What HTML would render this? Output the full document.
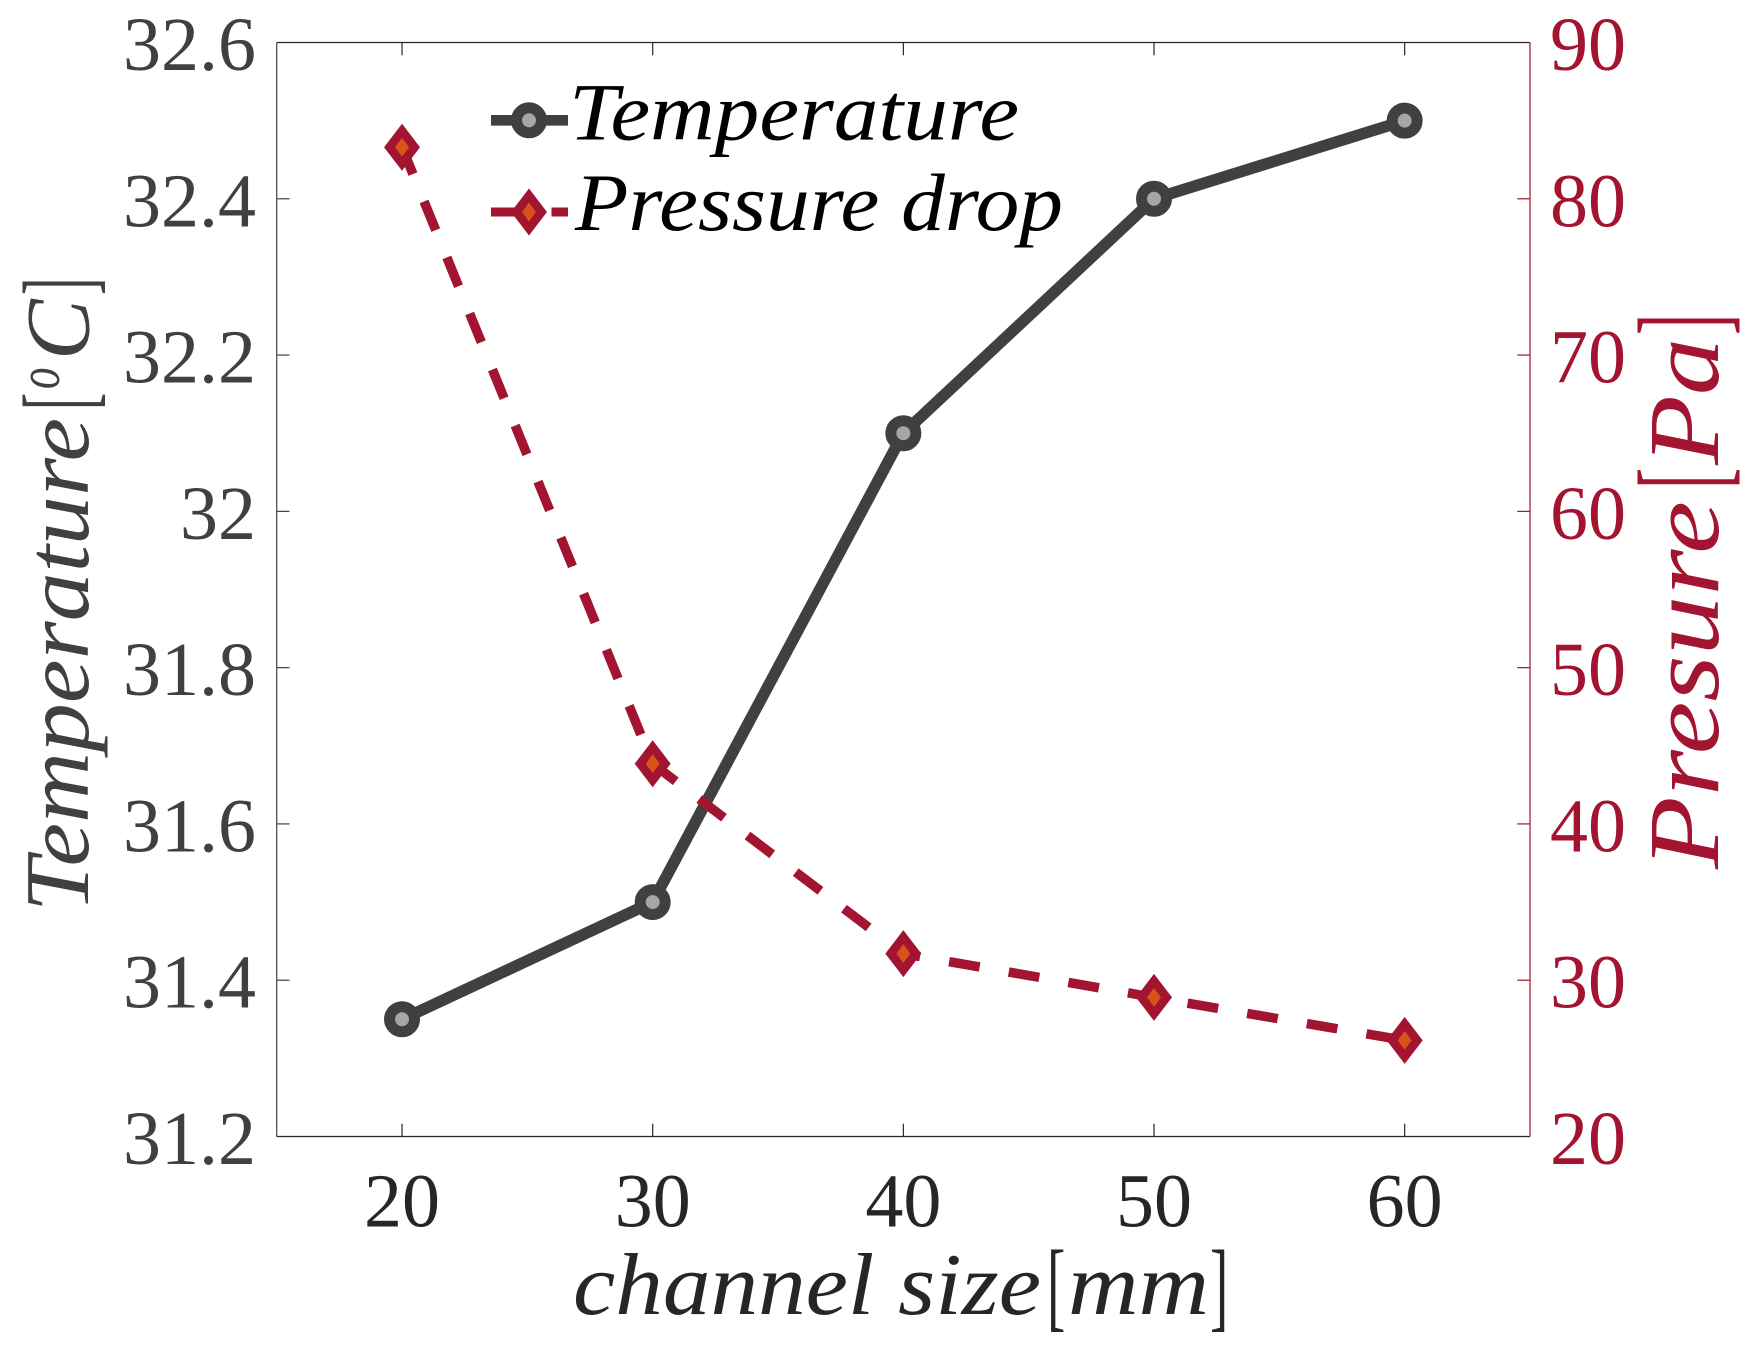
<!DOCTYPE html>
<html lang="en">
<head>
<meta charset="utf-8">
<title>Temperature and pressure drop vs channel size</title>
<style>
  html, body { margin: 0; padding: 0; background: #ffffff; }
  svg { display: block; }
  text { font-family: "Liberation Serif", serif; }
  .it { font-style: italic; }
</style>
</head>
<body>
<svg id="chart" xmlns="http://www.w3.org/2000/svg" width="1759" height="1354" viewBox="0 0 1759 1354">
  <rect x="0" y="0" width="1759" height="1354" fill="#ffffff"/>
  <g id="axes"></g>
  <g id="series"></g>

  <g>
    <g>
      <line x1="491" y1="120.3" x2="568" y2="120.3" stroke="#404040" stroke-width="10.7"/>
      <circle cx="529" cy="120.3" r="12.5" fill="#a6a6a6" stroke="#404040" stroke-width="11"/>
      <text class="it" x="569" y="139.5" font-size="82" fill="#000000" textLength="450" lengthAdjust="spacingAndGlyphs">Temperature</text>
    </g>
    <g>
      <line x1="491" y1="212" x2="568" y2="212" stroke="#A2142F" stroke-width="9" stroke-dasharray="31 29.5"/>
      <polygon points="529,188.5 547,212 529,235.5 511,212" fill="#A2142F"/>
      <polygon points="529,202.5 536,212 529,221.5 522,212" fill="#D95319"/>
      <text class="it" x="575" y="229.8" font-size="82" fill="#000000" textLength="488" lengthAdjust="spacingAndGlyphs">Pressure drop</text>
    </g>
  </g>

  <g fill="#262626">
    <text class="it" x="573" y="1314" font-size="88" textLength="468" lengthAdjust="spacingAndGlyphs">channel size</text>
    <text transform="translate(1047,1318.4) scale(0.55,1)" font-size="100">[</text>
    <text class="it" x="1068" y="1314" font-size="88" textLength="141" lengthAdjust="spacingAndGlyphs">mm</text>
    <text transform="translate(1210,1318.4) scale(0.55,1)" font-size="100">]</text>
  </g>

  <g fill="#404040">
    <text class="it" transform="translate(88,912) rotate(-90)" font-size="91" textLength="494" lengthAdjust="spacingAndGlyphs">Temperature</text>
    <text transform="translate(91.4,410) rotate(-90) scale(0.52,1)" font-size="100">[</text>
    <text class="it" transform="translate(59,389) rotate(-90) scale(0.72,1)" font-size="60">o</text>
    <text class="it" transform="translate(88.5,360) rotate(-90)" font-size="91">C</text>
    <text transform="translate(91.4,295) rotate(-90) scale(0.52,1)" font-size="100">]</text>
  </g>

  <g fill="#A2142F">
    <text class="it" transform="translate(1718,869) rotate(-90)" font-size="101" textLength="368" lengthAdjust="spacingAndGlyphs">Presure</text>
    <text transform="translate(1723,489) rotate(-90) scale(0.52,1)" font-size="123">[</text>
    <text class="it" transform="translate(1718,465) rotate(-90)" font-size="101" textLength="127" lengthAdjust="spacingAndGlyphs">Pa</text>
    <text transform="translate(1723,335) rotate(-90) scale(0.52,1)" font-size="123">]</text>
  </g>
</svg>

<script>
const channelSizes = [20, 30, 40, 50, 60];
const temperatureValues = [31.35, 31.5, 32.1, 32.4, 32.5];
const pressureValues = [83.3, 43.85, 31.7, 28.9, 26.15];
const xTickValues = [20, 30, 40, 50, 60];
const leftTickValues = [31.2, 31.4, 31.6, 31.8, 32, 32.2, 32.4, 32.6];
const leftTickLabels = ['31.2', '31.4', '31.6', '31.8', '32', '32.2', '32.4', '32.6'];
const rightTickValues = [20, 30, 40, 50, 60, 70, 80, 90];

const NS = 'http://www.w3.org/2000/svg';
const plotLeft = 276.7, plotRight = 1530, plotTop = 42.5, plotBottom = 1136.5;
const xMin = 15, xMax = 65, leftMin = 31.2, leftMax = 32.6, rightMin = 20, rightMax = 90;

function xScale(v) { return plotLeft + (v - xMin) / (xMax - xMin) * (plotRight - plotLeft); }
function leftScale(v) { return plotBottom - (v - leftMin) / (leftMax - leftMin) * (plotBottom - plotTop); }
function rightScale(v) { return plotBottom - (v - rightMin) / (rightMax - rightMin) * (plotBottom - plotTop); }

function make(tag, attrs, parent, content) {
  const el = document.createElementNS(NS, tag);
  for (const k in attrs) el.setAttribute(k, attrs[k]);
  if (content !== undefined) el.textContent = content;
  parent.appendChild(el);
  return el;
}

const axes = document.getElementById('axes');
const series = document.getElementById('series');
const tickLen = 12.8;
const darkAxis = '#262626', leftAxis = '#404040', rightAxis = '#A2142F';

// spines
const spineTop = make('line', { x1: plotLeft, y1: plotTop, x2: plotRight, y2: plotTop, stroke: darkAxis, 'stroke-width': 1.2 }, axes);


const spineBottom = make('line', { x1: plotLeft, y1: plotBottom, x2: plotRight, y2: plotBottom, stroke: darkAxis, 'stroke-width': 1.2 }, axes);


const spineLeft = make('line', { x1: plotLeft, y1: plotTop, x2: plotLeft, y2: plotBottom, stroke: leftAxis, 'stroke-width': 1.2 }, axes);


const spineRight = make('line', { x1: plotRight, y1: plotTop, x2: plotRight, y2: plotBottom, stroke: rightAxis, 'stroke-width': 1.2 }, axes);



// x ticks (top and bottom) and labels
xTickValues.forEach(function (v) {
  const x = xScale(v);
  const tb = make('line', { x1: x, y1: plotBottom, x2: x, y2: plotBottom - tickLen, stroke: darkAxis, 'stroke-width': 1.2 }, axes);
  
  
  const tt = make('line', { x1: x, y1: plotTop, x2: x, y2: plotTop + tickLen, stroke: darkAxis, 'stroke-width': 1.2 }, axes);
  
  
  const lab = make('text', { x: x, y: 1226.5, 'font-size': 76, fill: darkAxis, 'text-anchor': 'middle' }, axes, String(v));
  
  
});

// left ticks and labels
leftTickValues.forEach(function (v, i) {
  const y = leftScale(v);
  if (i > 0 && i < leftTickValues.length - 1) {
    const t = make('line', { x1: plotLeft, y1: y, x2: plotLeft + tickLen, y2: y, stroke: leftAxis, 'stroke-width': 1.2 }, axes);
    
    
  }
  const lab = make('text', { x: 256, y: y + 27.5, 'font-size': 76, fill: leftAxis, 'text-anchor': 'end' }, axes, leftTickLabels[i]);
  
  
});

// right ticks and labels
rightTickValues.forEach(function (v, i) {
  const y = rightScale(v);
  if (i > 0 && i < rightTickValues.length - 1) {
    const t = make('line', { x1: plotRight - tickLen, y1: y, x2: plotRight, y2: y, stroke: rightAxis, 'stroke-width': 1.2 }, axes);
    
    
  }
  const lab = make('text', { x: 1550, y: y + 27.5, 'font-size': 76, fill: rightAxis }, axes, String(v));
  
  
});

// temperature series
const tempPoints = channelSizes.map(function (c, i) { return xScale(c) + ',' + leftScale(temperatureValues[i]); }).join(' ');
const tempLine = make('polyline', { points: tempPoints, fill: 'none', stroke: '#404040', 'stroke-width': 11.5, 'stroke-linejoin': 'round' }, series);


channelSizes.forEach(function (c, i) {
  const m = make('circle', { cx: xScale(c), cy: leftScale(temperatureValues[i]), r: 12.5, fill: '#a6a6a6', stroke: '#404040', 'stroke-width': 11 }, series);
  
  
});

// pressure series
const pressPoints = channelSizes.map(function (c, i) { return xScale(c) + ',' + rightScale(pressureValues[i]); }).join(' ');
const pressLine = make('polyline', { points: pressPoints, fill: 'none', stroke: '#A2142F', 'stroke-width': 9.5, 'stroke-dasharray': '31 29.5', 'stroke-dashoffset': 2 }, series);



function diamond(cx, cy, hw, hh) {
  return cx + ',' + (cy - hh) + ' ' + (cx + hw) + ',' + cy + ' ' + cx + ',' + (cy + hh) + ' ' + (cx - hw) + ',' + cy;
}
channelSizes.forEach(function (c, i) {
  const cx = xScale(c), cy = rightScale(pressureValues[i]);
  const outer = make('polygon', { points: diamond(cx, cy, 18, 23.5), fill: '#A2142F' }, series);
  
  
  const inner = make('polygon', { points: diamond(cx, cy, 7, 9.5), fill: '#D95319' }, series);
  
  
});
</script>
</body>
</html>
